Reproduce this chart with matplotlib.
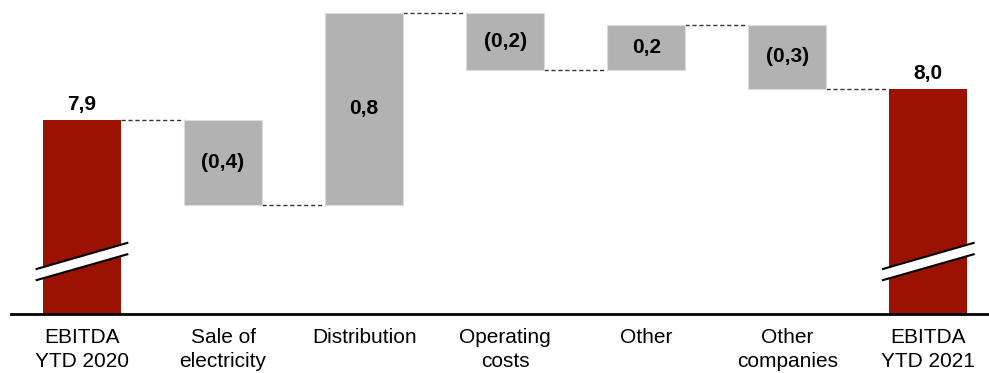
import matplotlib.pyplot as plt
import numpy as np

# Waterfall data (EUR bn)
categories = ["EBITDA\nYTD 2020", "Sale of\nelectricity", "Distribution",
              "Operating\ncosts", "Other", "Other\ncompanies", "EBITDA\nYTD 2021"]
start_value = 7.88
deltas = [-0.36, 0.81, -0.24, 0.19, -0.27]

RED = "#9b1300"
GREY = "#b2b2b2"

plt.rcParams['font.family'] = ['Liberation Sans', 'DejaVu Sans']


def fmt(v, neg=False):
    s = f"{abs(v):.1f}".replace(".", ",")
    return f"({s})" if neg else s


end_value = start_value + sum(deltas)
levels = np.concatenate([[start_value], start_value + np.cumsum(deltas)])

fig = plt.figure(figsize=(9.89, 3.73), dpi=100)
ax = fig.add_axes([0.011, 1 - 314 / 373, 0.989, 314 / 373])

ymin = 7.06
ax.set_ylim(ymin, ymin + 314 / 237)
ax.set_xlim(-0.504, 6.43)
width = 0.553
x = np.arange(len(categories))

# total bars
ax.bar([x[0], x[-1]], [start_value - ymin, end_value - ymin], bottom=ymin,
       width=width, color=RED, zorder=2)
for xv, v in ((x[0], start_value), (x[-1], end_value)):
    ax.annotate(fmt(v), (xv, v), xytext=(0, 4),
                textcoords="offset points", ha="center", va="bottom",
                fontsize=15, fontweight="bold")

# delta bars
for i, d in enumerate(deltas):
    lo = min(levels[i], levels[i + 1])
    ax.bar(x[i + 1], abs(d), bottom=lo, width=width, color=GREY,
           edgecolor="#dcdcdc", linewidth=0.8, zorder=2)
    ax.text(x[i + 1], lo + abs(d) / 2, fmt(d, neg=d < 0), ha="center",
            va="center", fontsize=15, fontweight="bold", zorder=3)

# dashed connectors
for i, lv in enumerate(levels):
    ax.plot([x[i] + width / 2, x[i + 1] - width / 2], [lv, lv],
            color="#333333", linewidth=1.0, linestyle=(0, (3, 2)), zorder=1)

# axis break marks on the total bars
for xc in (x[0], x[-1]):
    xl, xr = xc - width / 2 - 0.045, xc + width / 2 + 0.045
    upper = [7.25, 7.36]
    lower = [7.203, 7.312]
    ax.fill([xl, xr, xr, xl], [lower[0], lower[1], upper[1], upper[0]],
            color="white", zorder=4, linewidth=0)
    ax.plot([xl, xr], upper, color="black", linewidth=1.5, zorder=5)
    ax.plot([xl, xr], lower, color="black", linewidth=1.5, zorder=5)

ax.set_xticks(x)
ax.set_xticklabels(categories, fontsize=15, linespacing=1.35)
ax.tick_params(axis="x", length=0, pad=10)
ax.set_yticks([])
for side in ["left", "right", "top"]:
    ax.spines[side].set_visible(False)
ax.spines["bottom"].set_linewidth(2)

plt.savefig("out.png", dpi=100)
plt.close()
